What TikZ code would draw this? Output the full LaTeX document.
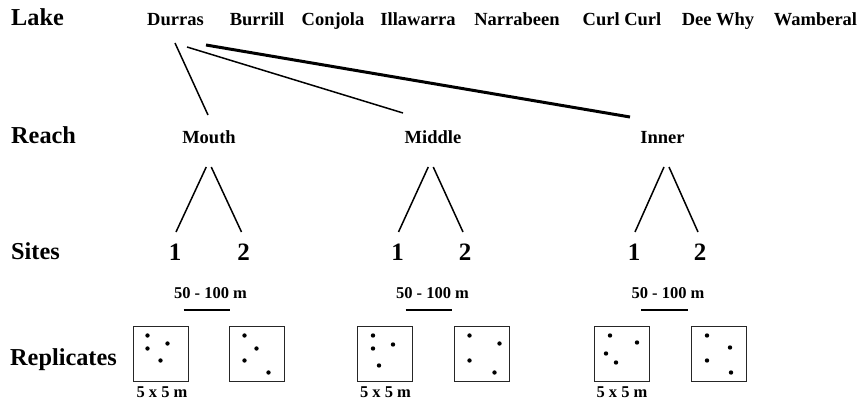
\documentclass[tikz,border=0pt]{standalone}
\usepackage{fontspec}
\setmainfont{Liberation Serif}
\usetikzlibrary{calc}
\begin{document}
\begin{tikzpicture}[x=1pt,y=-1pt,
  lbl/.style={anchor=base west,inner sep=0,font=\fontsize{24.3}{28}\selectfont\bfseries},
  nm/.style={anchor=base,inner sep=0,font=\fontsize{18.5}{22}\selectfont\bfseries},
  num/.style={anchor=base,inner sep=0,font=\fontsize{25}{30}\selectfont\bfseries},
  sm/.style={anchor=base,inner sep=0,font=\fontsize{16.5}{20}\selectfont\bfseries},
  conn/.style={line width=1.5pt},
  heavyconn/.style={line width=3pt},
  scalebar/.style={line width=1.5pt},
  quad/.style={draw=black!85,line width=1pt,minimum size=55pt,inner sep=0},
  dotmark/.style={fill=black}
]
\useasboundingbox (0,0) rectangle (859,401);

% row labels
\node[lbl] (lLake) at (11,26) {Lake};
\node[lbl] (lReach) at (11,143) {Reach};
\node[lbl] (lSites) at (11,259) {Sites};
\node[lbl] (lRep) at (10,365) {Replicates};

% lakes
\node[nm] (durras) at (175.5,26) {Durras};
\node[nm] (burrill) at (257,26) {Burrill};
\node[nm] (conjola) at (333,26) {Conjola};
\node[nm] (illawarra) at (418,26) {Illawarra};
\node[nm] (narrabeen) at (517,26) {Narrabeen};
\node[nm] (curlcurl) at (622,26) {Curl Curl};
\node[nm] (deewhy) at (718,26) {Dee Why};
\node[nm] (wamberal) at (815.5,26) {Wamberal};

% reaches
\node[nm] (mouth) at (209,143) {Mouth};
\node[nm] (middle) at (433,143) {Middle};
\node[nm] (inner) at (662.5,143) {Inner};

\draw[conn] ([shift={(-0.5,17)}]durras.base) -- ([shift={(-1,-28)}]mouth.base);
\draw[conn] ([shift={(11.5,21)}]durras.base) -- ([shift={(-30,-30)}]middle.base);
\draw[heavyconn] ([shift={(30.5,19)}]durras.base) -- ([shift={(-32.5,-26)}]inner.base);

% sites
\node[num] (m1) at (175,260) {1};
\node[num] (m2) at (243.5,260) {2};
\node[num] (d1) at (397.5,260) {1};
\node[num] (d2) at (465,260) {2};
\node[num] (i1) at (634,260) {1};
\node[num] (i2) at (700,260) {2};

\foreach \a/\b in {m1/m2,d1/d2,i1/i2}{
  \draw[conn] ($(\a.base)!0.5!(\b.base)+(-3,-93)$) -- ([shift={(1,-28)}]\a.base);
  \draw[conn] ($(\a.base)!0.5!(\b.base)+(2,-93)$) -- ([shift={(-2,-28)}]\b.base);
}

% distance labels
\node[sm] (dm) at (210.5,298) {50 - 100 m};
\node[sm] (dd) at (432.5,298) {50 - 100 m};
\node[sm] (di) at (668,298) {50 - 100 m};
\foreach \t in {dm,dd,di}{
  \draw[scalebar] ([shift={(-27,12)}]\t.base) -- ([shift={(19.5,12)}]\t.base);
}

% quadrats
\node[quad] (qm1) at (160.5,353.5) {};
\node[quad] (qm2) at (256.5,353.5) {};
\node[quad] (qd1) at (385,353.5) {};
\node[quad] (qd2) at (481.5,353.5) {};
\node[quad] (qi1) at (622,353.5) {};
\node[quad] (qi2) at (719,353.5) {};

\foreach \q/\px/\py in {
  qm1/15/10, qm1/15/23, qm1/35/18, qm1/28/35,
  qm2/16/10, qm2/28/23, qm2/16/35, qm2/40/47,
  qd1/16/10, qd1/16/23, qd1/36/19, qd1/22/40,
  qd2/16/10, qd2/46/18, qd2/16/35, qd2/41/47,
  qi1/16/10, qi1/43/17, qi1/12/28, qi1/22/37,
  qi2/16/10, qi2/39/22, qi2/16/35, qi2/40/47}{
  \fill[dotmark] ([shift={(\px,\py)}]\q.north west) circle (2.2pt);
}

\node[sm] (sm1) at (162,397) {5 x 5 m};
\node[sm] (sd1) at (385.5,397) {5 x 5 m};
\node[sm] (si1) at (622,397) {5 x 5 m};
\end{tikzpicture}
\end{document}
